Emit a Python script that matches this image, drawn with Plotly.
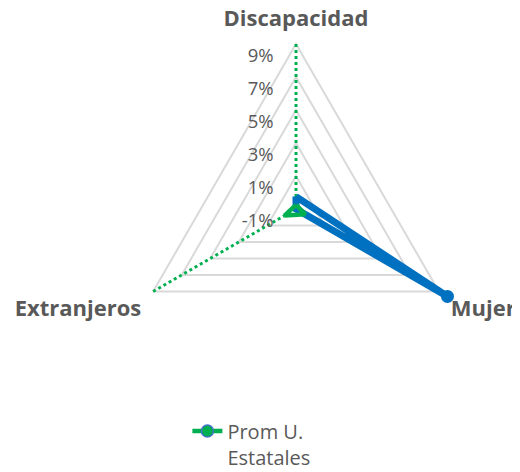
import plotly.graph_objects as go

categories = ["Discapacidad", "Mujer", "Extranjeros"]
prom_estatales = [-0.75, -0.35, -0.2]
universidad = [-0.25, 9.6, -1.0]
tick_vals = [-1, 1, 3, 5, 7, 9]
tick_labels = ["-1%", "1%", "3%", "5%", "7%", "9%"]

GREEN = "#00B050"
BLUE = "#0070C0"
TEXT = "#595959"
FONT = "Open Sans"
PAD = "\u00a0" * 4  # keeps the radial labels clear of the axis

fig = go.Figure()

# spokes (axis lines), green dotted, from min to max tick
for c in categories:
    fig.add_trace(go.Scatterpolar(
        r=[tick_vals[0], tick_vals[-1]], theta=[c, c], mode="lines",
        line=dict(color=GREEN, width=3, dash="dot"),
        showlegend=False, hoverinfo="skip"))

fig.add_trace(go.Scatterpolar(
    r=universidad + [universidad[0]], theta=categories + [categories[0]],
    mode="lines+markers", name="Universidad",
    line=dict(color=BLUE, width=7),
    marker=dict(size=13, color=BLUE),
    cliponaxis=False, showlegend=False))

fig.add_trace(go.Scatterpolar(
    r=prom_estatales + [prom_estatales[0]], theta=categories + [categories[0]],
    mode="lines+markers", name="Prom U.<br>Estatales",
    line=dict(color=GREEN, width=4.5),
    marker=dict(size=12, color=GREEN, line=dict(color="#4472C4", width=1.5)),
    cliponaxis=False))

fig.update_layout(
    width=520, height=472,
    margin=dict(l=0, r=0, t=0, b=0),
    paper_bgcolor="white",
    font=dict(family=FONT, color=TEXT),
    polar=dict(
        domain=dict(x=[0.2112, 0.8965], y=[0.1966, 0.9517]),
        gridshape="linear",
        bgcolor="white",
        radialaxis=dict(
            range=[-1, 9.8], tickvals=tick_vals,
            ticktext=["<br>" + t + PAD for t in tick_labels],
            angle=90, tickangle=90, side="counterclockwise", showline=False, ticks="",
            gridcolor="#D9D9D9", gridwidth=1.5,
            tickfont=dict(family=FONT, size=18.5, color=TEXT)),
        angularaxis=dict(
            type="category", categoryarray=categories,
            direction="clockwise", rotation=90,
            showline=False, showgrid=False, ticks="",
            tickfont=dict(family=FONT, size=22, color=TEXT, weight="bold")),
    ),
    showlegend=True,
    legend=dict(x=0.345, y=0.145, xanchor="left", yanchor="top",
                valign="top", font=dict(family=FONT, size=20, color=TEXT),
                bgcolor="rgba(0,0,0,0)"),
)

fig.write_html("out.html")
